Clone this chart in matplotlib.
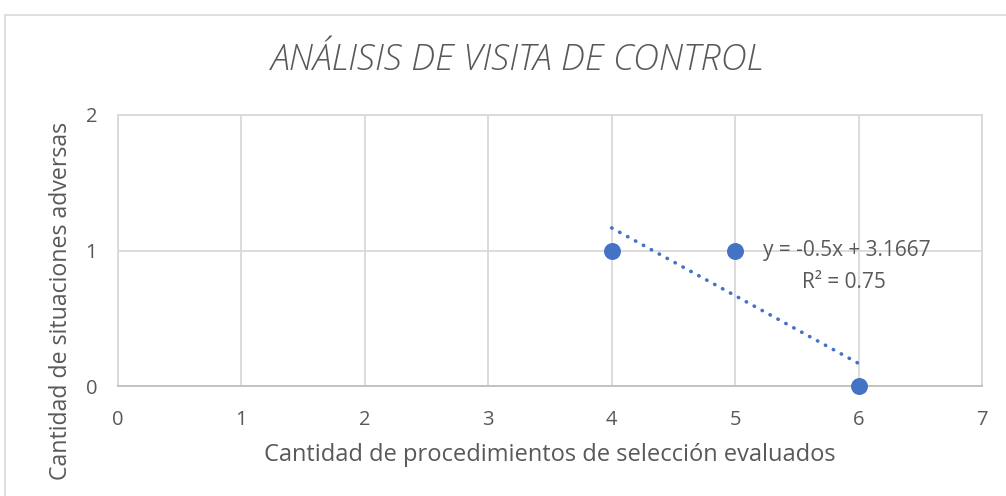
import numpy as np
import matplotlib.pyplot as plt
from matplotlib.patches import Rectangle

# datos
procedimientos = [4, 5, 6]
situaciones = [1, 1, 0]
x_ticks = [0, 1, 2, 3, 4, 5, 6, 7]
y_ticks = [0, 1, 2]

azul = '#4472C4'
gris_txt = '#595959'
gris_grid = '#D9D9D9'

plt.rcParams['font.family'] = ['Open Sans', 'DejaVu Sans']

fig = plt.figure(figsize=(10.06, 4.96), dpi=100)
fig.patches.append(Rectangle((5/1006, -0.1), 1.2, 1 - 15/496 + 0.1, transform=fig.transFigure,
                             fill=False, edgecolor=gris_grid, linewidth=1.2))
ax = fig.add_axes([118/1006, 1 - 386/496, (982 - 118)/1006, (386 - 115)/496])

# tendencia lineal
m, b = np.polyfit(procedimientos, situaciones, 1)
pred = m * np.array(procedimientos) + b
ss_res = np.sum((np.array(situaciones) - pred) ** 2)
ss_tot = np.sum((np.array(situaciones) - np.mean(situaciones)) ** 2)
r2 = 1 - ss_res / ss_tot
xt = np.array([min(procedimientos), max(procedimientos)])
ax.plot(xt, m * xt + b, color=azul, linewidth=2.6, linestyle=(0, (0.1, 2.4)),
        dash_capstyle='round', zorder=3)

ax.scatter(procedimientos, situaciones, s=125, color=azul, zorder=4, clip_on=False)

ax.text(5.225, 1, 'y = %.1fx + %.4f' % (m, b), color=gris_txt, fontsize=15,
        va='center', ha='left')
ax.text(5.88, 0.765, 'R² = %.2f' % r2, color=gris_txt, fontsize=15,
        va='center', ha='center')

ax.set_xlim(0, 7)
ax.set_ylim(0, 2)
ax.set_xticks(x_ticks)
ax.set_yticks(y_ticks)
ax.grid(True, color=gris_grid, linewidth=1.3)
ax.set_axisbelow(True)
for s in ['top', 'right', 'left']:
    ax.spines[s].set_color(gris_grid)
    ax.spines[s].set_linewidth(1.3)
ax.spines['bottom'].set_color('#BFBFBF')
ax.spines['bottom'].set_linewidth(1.3)
ax.tick_params(length=0, labelsize=14.5, labelcolor=gris_txt)
ax.tick_params(axis='x', pad=17)
ax.tick_params(axis='y', pad=15)

fig.text(550/1006, 1 - 455/496, 'Cantidad de procedimientos de selección evaluados',
         fontsize=17, color=gris_txt, ha='center', va='center')
fig.text(61/1006, 1 - 301/496, 'Cantidad de situaciones adversas', fontsize=16.7,
         color=gris_txt, ha='center', va='center', rotation=90)
fig.text(0.5145, 1 - 60/496, 'ANÁLISIS DE VISITA DE CONTROL', fontsize=26, style='italic',
         color=gris_txt, ha='center', va='center', fontweight='light')

fig.savefig('out.png', dpi=100)
